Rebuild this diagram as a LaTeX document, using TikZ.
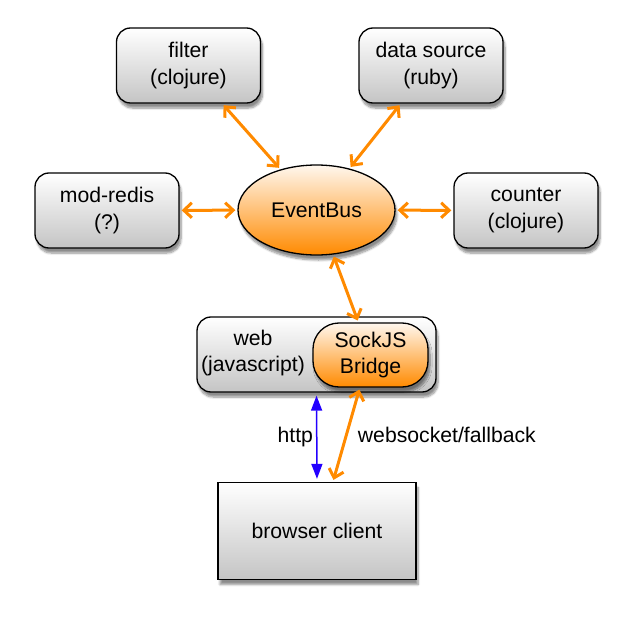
\documentclass[tikz,border=0pt]{standalone}
\usepackage{fontspec}
\setmainfont{Liberation Sans}
\usetikzlibrary{arrows.meta, shapes.geometric, shadows.blur}
\definecolor{busorange}{RGB}{255,138,0}
\definecolor{paleorange}{RGB}{255,247,238}
\definecolor{linkblue}{RGB}{35,0,255}

\begin{document}
\begin{tikzpicture}[x=1pt, y=-1pt,
    every node/.style={font=\fontsize{21.2}{26.5}\selectfont, align=center},
    softshadow/.style={blur shadow={shadow xshift=2pt, shadow yshift=-5pt, shadow blur steps=8, shadow opacity=45}},
    module/.style={draw, line width=1.3pt, rounded corners=14pt, minimum width=144pt, minimum height=75pt,
        top color=white, bottom color=black!23, softshadow},
    busarrow/.style={draw=busorange, line width=3pt, <->, >={Straight Barb[length=8pt,width=15pt]},
        shorten <=2pt, shorten >=2pt},
    httparrow/.style={draw=linkblue, line width=1.5pt, <->, >={Triangle[length=15pt,width=11pt]}}]
\useasboundingbox (0,0) rectangle (633,621);

% Modules round the bus
\node[module] (filter) at (188.5,65.5) {filter\\(clojure)};
\node[module] (source) at (431,65.5) {data source\\(ruby)};
\node[module] (redis) at (107,210.5) {mod-redis\\(?)};
\node[module] (counter) at (526,210.5) {counter\\(clojure)};

% Event bus
\node[ellipse, draw, line width=1.3pt, minimum width=157pt, minimum height=90pt,
    top color=paleorange, bottom color=busorange, softshadow] (bus) at (316.5,210) {EventBus};

% Web server with bridge
\node[module, minimum width=239pt] (web) at (316.5,354.5) {};
\node (weblabel) at (253,353) {web\\(javascript)};
\node[draw, line width=1.3pt, rounded corners=26pt, minimum width=115pt, minimum height=64pt,
    top color=paleorange, bottom color=busorange, softshadow] (bridge) at (370.5,355) {SockJS\\Bridge};

% Browser
\node[draw, line width=1.3pt, minimum width=198pt, minimum height=97pt,
    top color=white, bottom color=black!23, softshadow] (browser) at (317,531) {browser client};

% Connections
\draw[busarrow] (filter) -- (bus);
\draw[busarrow] (source) -- (bus);
\draw[busarrow] (redis) -- (bus);
\draw[busarrow] (counter) -- (bus);
\draw[busarrow] (bus) -- (bridge);
\draw[busarrow] (bridge.-108) -- node[anchor=west, xshift=8pt, inner sep=2pt] (wslabel) {websocket/fallback} (browser.72);
\draw[httparrow, shorten <=3pt, shorten >=3pt] (web.south) -- node[anchor=east, inner sep=3pt] (httplabel) {http} (browser.north);
\end{tikzpicture}
\end{document}
